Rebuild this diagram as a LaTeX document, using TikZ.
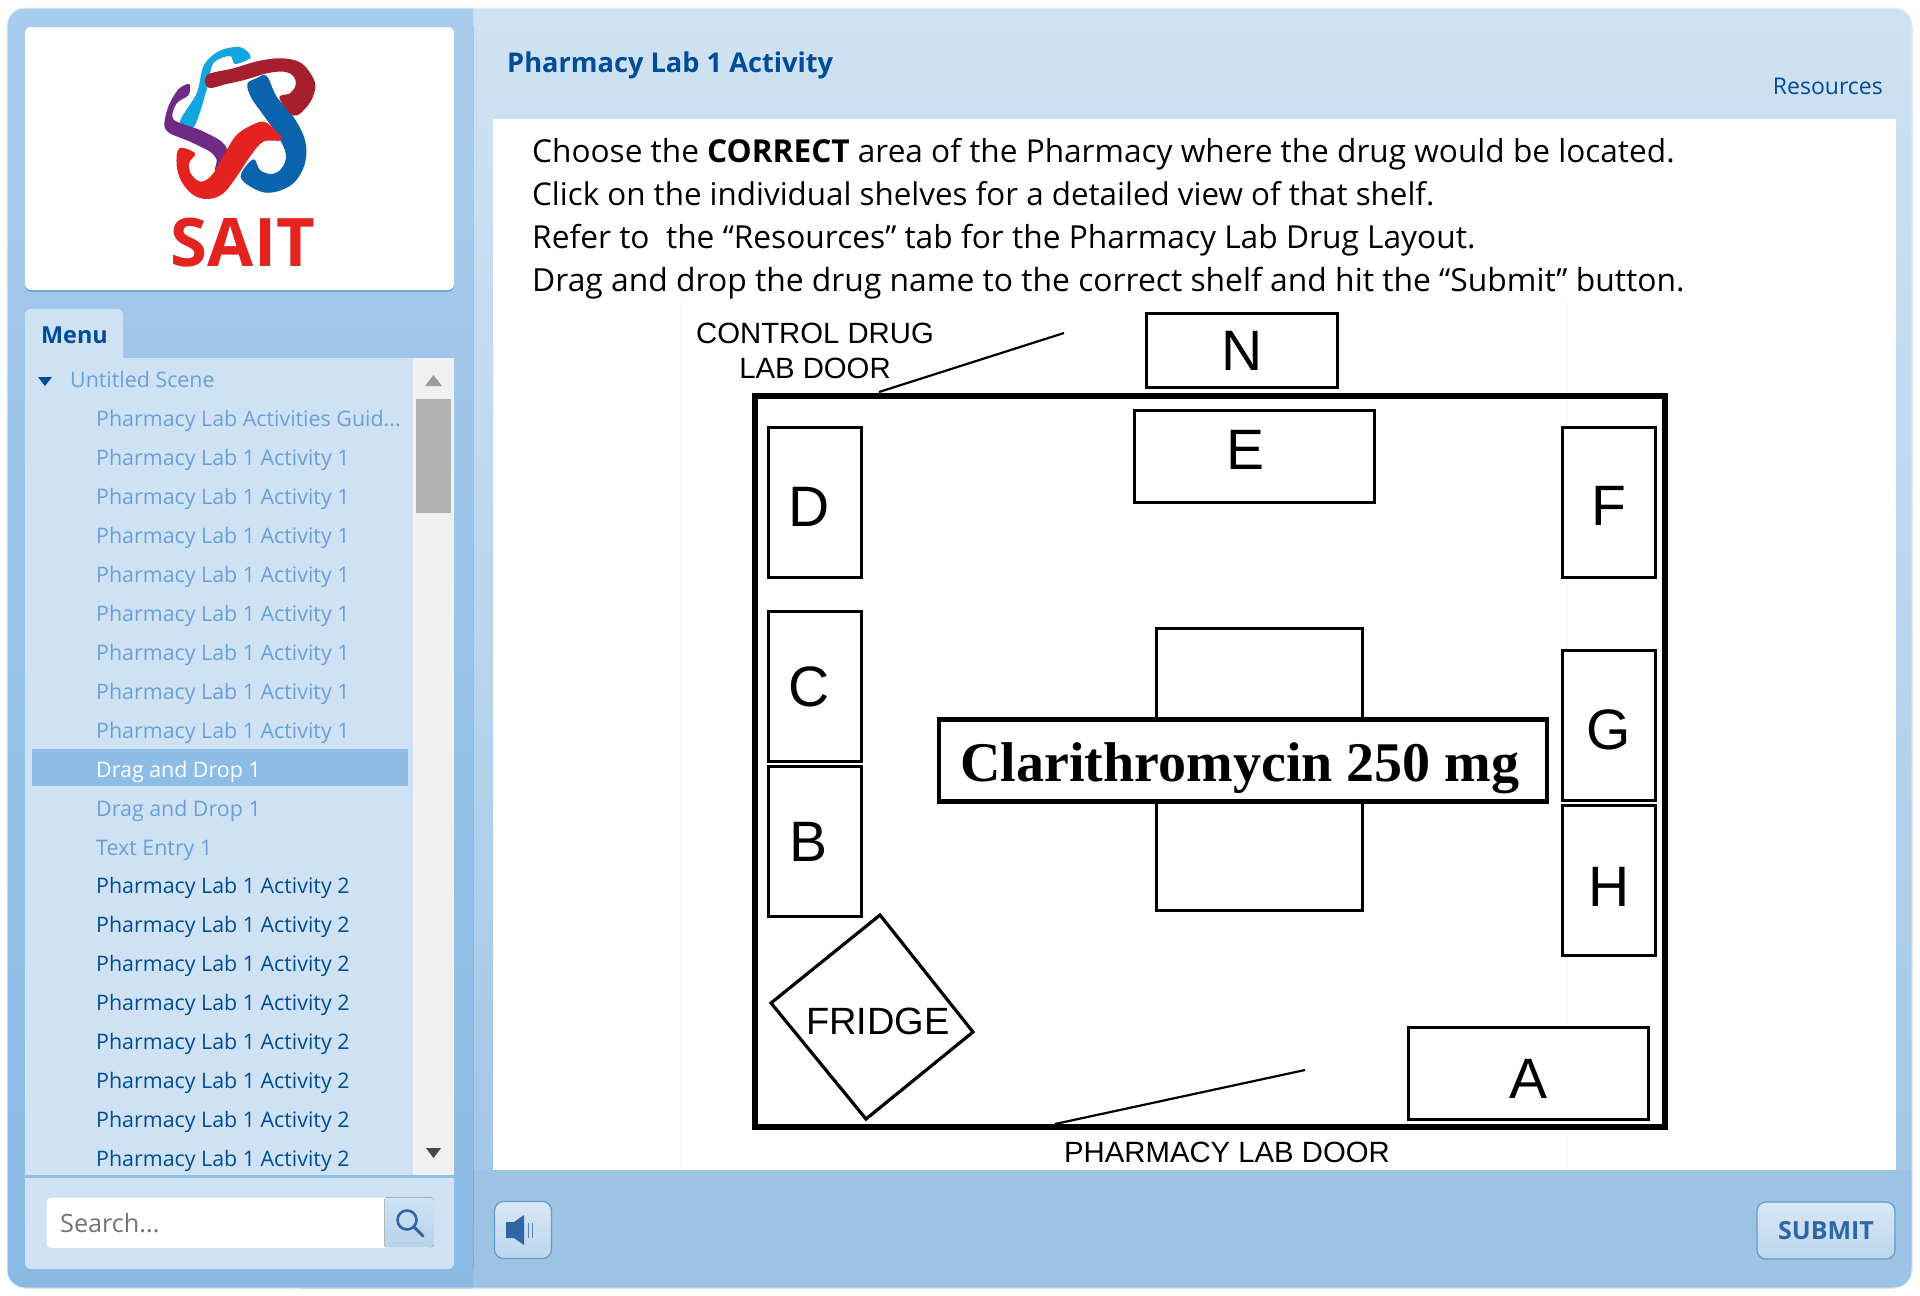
\documentclass[tikz,border=0pt]{standalone}
\usepackage{fontspec}
\setmainfont{Open Sans}
\newfontfamily\diagfont{Liberation Sans}
\newfontfamily\drugfont{Liberation Serif}
\usetikzlibrary{calc,positioning,shapes.geometric}
\definecolor{panelTop}{HTML}{A8CCEC}
\definecolor{panelBot}{HTML}{8ABAE4}
\definecolor{headBlue}{HTML}{CFE2F3}
\definecolor{barBlue}{HTML}{9EC4E5}
\definecolor{navyText}{HTML}{004C97}
\definecolor{fadedText}{HTML}{6A9FDC}
\definecolor{hiliteBlue}{HTML}{8DBDE7}
\definecolor{btnEdge}{HTML}{6699CC}
\definecolor{btnInk}{HTML}{2F66A4}
\definecolor{saitRed}{HTML}{E42320}
\definecolor{saitCyan}{HTML}{12A6E0}
\definecolor{saitPurple}{HTML}{6F2A86}
\definecolor{saitBlue}{HTML}{0B63AE}
\definecolor{saitDark}{HTML}{A61F2E}
\newcommand{\fs}[1]{\fontsize{#1}{#1}\selectfont}

\begin{document}
\begin{tikzpicture}[x=1pt, y=-1pt,
  menurow/.style={anchor=base west, inner sep=0pt, font=\fs{21.4}, text=navyText},
  fadedrow/.style={menurow, text=fadedText},
  shelf/.style={draw, line width=3pt, fill=white, inner sep=0pt},
  shelfmark/.style={inner sep=0pt, font=\diagfont\fs{57}},
  roomlabel/.style={inner sep=0pt, align=center, font=\diagfont\fontsize{29.3}{35}\selectfont},
  leadline/.style={draw, line width=2.2pt},
  instr/.style={anchor=base west, inner sep=0pt, font=\fs{31.6}},
  uibtn/.style={draw=btnEdge, line width=1.2pt, rounded corners=9pt, top color=headBlue!80!white, bottom color=barBlue!70!white},
]
  \useasboundingbox (0,0) rectangle (1920,1296);

  % === Outer frame ===
  \fill[white] (0,0) rectangle (1920,1296);
  \fill[top color=headBlue, bottom color=barBlue, middle color=headBlue!55!barBlue, rounded corners=18pt]
    (440,8) rectangle (1912,1288);
  \fill[barBlue, rounded corners=18pt] (440,1170) rectangle (1912,1288);
  \fill[barBlue] (440,1170) rectangle (1912,1200);
  \fill[top color=panelTop, bottom color=panelBot, rounded corners=18pt] (7,8) rectangle (473,1288);
  \fill[top color=panelTop, bottom color=panelBot] (300,8) rectangle (473,1288);
  \draw[headBlue!60!white, line width=1pt, rounded corners=18pt] (7,8) rectangle (1912,1288);

  % === Logo card ===
  \fill[btnEdge, rounded corners=6pt] (25,30) rectangle (454,291.5);
  \node[fill=white, rounded corners=6pt, minimum width=429pt, minimum height=263pt,
    inner sep=0pt] (logocard) at (239.5,158.5) {};
  \begin{scope}[x=0.3333pt, y=-0.3333pt]
    \fill[saitCyan] plot[smooth cycle, tension=0.55] coordinates
      {(752,172) (722,142) (660,152) (612,195) (590,280) (540,365) (582,380) (622,262) (640,190) (690,168) (705,192)};
    \fill[saitPurple] plot[smooth cycle, tension=0.5] coordinates
      {(568,252) (535,268) (505,320) (493,375) (510,400) (570,425) (630,455) (650,480) (645,512) (682,460) (665,425) (600,390) (520,358) (530,310) (566,285)};
    \fill[saitBlue] plot[smooth cycle, tension=0.6] coordinates
      {(742,252) (770,235) (800,228) (830,290) (880,350) (915,420) (915,490) (880,550) (820,577) (770,570) (722,530) (760,478) (780,510) (815,522) (845,505) (858,465) (835,410) (790,345) (755,295)};
    \fill[saitRed] plot[smooth cycle, tension=0.6] coordinates
      {(790,365) (820,385) (845,420) (790,425) (750,470) (710,530) (670,580) (625,597) (580,585) (545,545) (530,495) (538,445) (585,460) (567,490) (575,525) (605,545) (640,520) (680,450) (710,405) (750,378)};
    \fill[saitDark] plot[smooth cycle, tension=0.6] coordinates
      {(622,225) (700,205) (780,182) (850,175) (905,190) (940,235) (945,270) (925,315) (882,347) (838,293) (870,280) (887,255) (880,228) (850,215) (800,220) (740,238) (680,252) (625,263)};
  \end{scope}
  \node[inner sep=0pt, text=saitRed, font=\bfseries\fs{67}] (saitlogo) at (243,242.5) {SAIT};

  % === Menu panel ===
  \fill[headBlue, rounded corners=6pt] (25,309) rectangle (123,380);
  \fill[headBlue, rounded corners=6pt] (25,358) rectangle (454,1269);
  \fill[headBlue] (25,358) rectangle (454,1100);
  \node[anchor=base, inner sep=0pt, text=navyText, font=\bfseries\fs{23.4}] (menutab) at (74.5,343) {Menu};
  \fill[panelBot!60!barBlue] (25,1175) rectangle (454,1178);

  % scrollbar
  \fill[black!6] (413,358) rectangle (454,1175);
  \fill[black!30] (416,399) rectangle (451,513);
  \fill[black!38] (425,386) -- (433.5,375) -- (442,386) -- cycle;
  \fill[black!72] (426,1148) -- (441,1148) -- (433.5,1158) -- cycle;

  % highlighted row
  \fill[hiliteBlue] (32,749) rectangle (408,786);

  % rows
  \fill[navyText] (38,377) -- (52,377) -- (45,386) -- cycle;
  \node[fadedrow] (row0) at (70,387.5) {Untitled Scene};
  \node[fadedrow] (row1) at (96,426.5) {Pharmacy Lab Activities Guid...};
  \foreach \n in {2,...,9}
    \node[fadedrow] (row\n) at (96,387.6+38.95*\n) {Pharmacy Lab 1 Activity 1};
  \node[menurow, text=white] (row10) at (96,777) {Drag and Drop 1};
  \node[fadedrow] (row11) at (96,816) {Drag and Drop 1};
  \node[fadedrow] (row12) at (96,855) {Text Entry 1};
  \foreach \n in {13,...,20}
    \node[menurow] (row\n) at (96,387.6+38.95*\n) {Pharmacy Lab 1 Activity 2};

  % === Search box ===
  \fill[white, rounded corners=5pt] (46.5,1197.5) rectangle (433.5,1248);
  \fill[top color=headBlue, bottom color=barBlue!75!white, rounded corners=2pt] (384.5,1197.5) rectangle (433.5,1247);
  \node[anchor=west, inner sep=0pt, text=black!55, font=\fs{25.2}] (searchtxt) at (60,1223) {Search...};
  \draw[btnInk, line width=2.6pt] (407,1220) circle (9.5pt);
  \draw[btnInk, line width=3pt, line cap=round] (414,1227) -- (423,1236);

  % === Header ===
  \node[anchor=base west, inner sep=0pt, text=navyText, font=\bfseries\fs{27.2}] (title) at (507,72) {Pharmacy Lab 1 Activity};
  \node[anchor=base east, inner sep=0pt, text=navyText, font=\fs{23}] (resources) at (1883,94.5) {Resources};

  % === Content area ===
  \fill[white] (493,119) rectangle (1896,1170);
  \draw[black!4, line width=1pt] (681,302) -- (681,1170) (1566,302) -- (1566,1170);
  \node[instr] (line1) at (532,162.5) {Choose the \textbf{CORRECT} area of the Pharmacy where the drug would be located.};
  \node[instr, font=\fs{31.35}] (line2) at (532,205.5) {Click on the individual shelves for a detailed view of that shelf.};
  \node[instr, font=\fs{31.7}] (line3) at (532,248.5) {Refer to\ \ the “Resources” tab for the Pharmacy Lab Drug Layout.};
  \node[instr, font=\fs{31.83}] (line4) at (532,291.5) {Drag and drop the drug name to the correct shelf and hit the “Submit” button.};

  % === Room and shelves ===
  \node[draw, line width=6.6pt, minimum width=910pt, minimum height=731pt, inner sep=0pt] (room) at (1210,761.5) {};

  \node[shelf, minimum width=191pt, minimum height=74pt] (N) at (1241.5,350) {};
  \node[shelf, minimum width=240pt, minimum height=92pt] (E) at (1254,456) {};
  \node[shelf, minimum width=93pt, minimum height=150pt] (D) at (814.5,502) {};
  \node[shelf, minimum width=93pt, minimum height=150pt] (F) at (1608.5,502) {};
  \node[shelf, minimum width=93pt, minimum height=150pt] (C) at (814.5,686) {};
  \node[shelf, minimum width=93pt, minimum height=150pt] (B) at (814.5,841) {};
  \node[shelf, minimum width=93pt, minimum height=150pt] (G) at (1608.5,725) {};
  \node[shelf, minimum width=93pt, minimum height=150pt] (H) at (1608.5,880) {};
  \node[shelf, minimum width=240pt, minimum height=92pt] (A) at (1528,1073) {};

  \node[shelfmark] (Nmark) at (1241.6,351) {N};
  \node[shelfmark] (Emark) at (1245,449.4) {E};
  \node[shelfmark] (Dmark) at (809,507) {D};
  \node[shelfmark] (Fmark) at (1609,506) {F};
  \node[shelfmark] (Cmark) at (809,687) {C};
  \node[shelfmark] (Bmark) at (809,842) {B};
  \node[shelfmark] (Gmark) at (1609,730) {G};
  \node[shelfmark] (Hmark) at (1609,886.5) {H};
  \node[shelfmark] (Amark) at (1528,1079) {A};

  \node[shelf, minimum width=206pt, minimum height=282pt] (table) at (1259,769) {};
  \node[draw, line width=4.6pt, fill=white, minimum width=608pt, minimum height=82pt, inner sep=0pt] (drug) at (1243,760.5) {};
  \node[inner sep=0pt, font=\drugfont\bfseries\fs{56}] (drugname) at (1240,768) {Clarithromycin 250 mg};

  % fridge
  \coordinate (f1) at (880,915);
  \coordinate (f2) at (973,1032);
  \coordinate (f3) at (866,1119);
  \coordinate (f4) at (771,1003);
  \draw[line width=3.2pt, fill=white] (f1) -- (f2) -- (f3) -- (f4) -- cycle;
  \node[inner sep=0pt, font=\diagfont\fs{38}] (fridge) at (878,1021) {FRIDGE};

  % === Door labels ===
  \node[roomlabel] (ctrldoor) at (815,351) {CONTROL DRUG\\LAB DOOR};
  \node[roomlabel] (labdoor) at (1227,1152) {PHARMACY LAB DOOR};
  \coordinate (ctrlend) at (1064,333);
  \coordinate (ctrlstart) at (879,392);
  \coordinate (labend) at (1305,1070);
  \coordinate (labstart) at (1055,1124);
  \path[leadline] (ctrlstart) -- (ctrlend);
  \path[leadline] (labstart) -- (labend);

  % === Bottom buttons ===
  \node[uibtn, minimum width=57pt, minimum height=57pt, inner sep=0pt] (soundbtn) at (523,1230) {};
  \fill[btnInk] (506,1222) -- (514,1222) -- (524,1215) -- (524,1245) -- (514,1238) -- (506,1238) -- cycle;
  \draw[btnInk!80!white, line width=1pt] (528,1223) -- (528,1238) (532,1223) -- (532,1238);
  \node[uibtn, minimum width=138pt, minimum height=57pt, inner sep=0pt, text=btnInk, font=\bfseries\fs{25}] (submit) at (1826,1230.5) {SUBMIT};
\end{tikzpicture}
\end{document}
